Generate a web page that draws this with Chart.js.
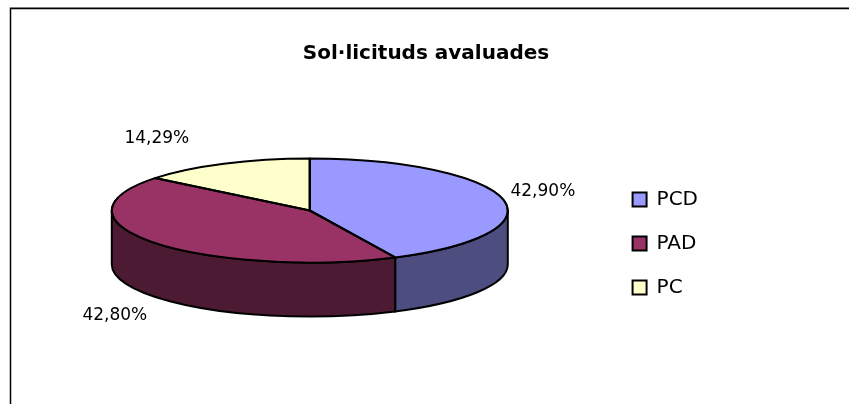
<!DOCTYPE html>
<html>
<head>
<meta charset="utf-8">
<title>Sol·licituds avaluades</title>
<script src="https://cdn.jsdelivr.net/npm/chart.js@4"></script>
<style>
  html, body { margin: 0; padding: 0; background: #fff; }
  #wrap { width: 849px; height: 404px; }
</style>
</head>
<body>
<div id="wrap"><canvas id="pieChart"></canvas></div>
<script>
const categories = ['PCD', 'PAD', 'PC'];
const shares = [42.90, 42.80, 14.29];
const shareLabels = ['42,90%', '42,80%', '14,29%'];
const topColors = ['#9999FF', '#993366', '#FFFFCC'];
const wallColors = ['#4D4D80', '#4D1A33', '#808066'];

// pie geometry: circle of pieRadius flattened to an ellipse, wall below it
const pieRadius = 198;
const flatten = 52 / 198;
const wallDepth = 54;
const labelFont = '17px "DejaVu Sans"';
// label centre relative to the rim point at the slice's mid angle
const labelOffsets = [[40, -7], [-40, 73], [-67, -25]];

// Draws the frame, the walls, and flattens the arcs of the pie
const pie3d = {
  id: 'pie3d',
  beforeDraw(chart) {
    const ctx = chart.ctx;
    ctx.save();
    ctx.strokeStyle = '#bbb';
    ctx.lineWidth = 1;
    ctx.beginPath();
    ctx.moveTo(11, 9.5);
    ctx.lineTo(849, 9.5);
    ctx.stroke();
    ctx.strokeStyle = '#000';
    ctx.lineWidth = 1.5;
    ctx.beginPath();
    ctx.moveTo(10.5, 404);
    ctx.lineTo(10.5, 8.2);
    ctx.lineTo(849, 8.2);
    ctx.stroke();
    ctx.restore();
  },
  afterLayout(chart) {
    // title is centred over the whole frame, legend sits lower than the pie centre
    chart.titleBlock.left = 300;
    chart.titleBlock.right = 552;
    chart.legend.top += 123.5;
    chart.legend.bottom += 123.5;
  },
  beforeDatasetsDraw(chart) {
    const ctx = chart.ctx;
    const arcs = chart.getDatasetMeta(0).data;
    const cx = arcs[0].x, cy = arcs[0].y;
    const ry = pieRadius * flatten;

    ctx.save();
    ctx.lineWidth = 2;
    ctx.strokeStyle = '#000';
    arcs.forEach((arc, i) => {
      const from = Math.max(arc.startAngle, 0);
      const to = Math.min(arc.endAngle, Math.PI);
      if (from >= to) return;
      ctx.beginPath();
      ctx.ellipse(cx, cy, pieRadius, ry, 0, from, to);
      ctx.ellipse(cx, cy + wallDepth, pieRadius, ry, 0, to, from, true);
      ctx.closePath();
      ctx.fillStyle = wallColors[i];
      ctx.fill();
      ctx.stroke();
    });
    ctx.restore();

    ctx.save();
    ctx.translate(cx, cy);
    ctx.scale(1, flatten);
    ctx.translate(-cx, -cy);
  },
  afterDatasetsDraw(chart) {
    const ctx = chart.ctx;
    ctx.restore();

    const arcs = chart.getDatasetMeta(0).data;
    const cx = arcs[0].x, cy = arcs[0].y;
    const ry = pieRadius * flatten;

    // outlines again, so the line width stays even around the ellipse
    ctx.save();
    ctx.lineWidth = 2;
    ctx.strokeStyle = '#000';
    ctx.lineJoin = 'round';
    arcs.forEach(arc => {
      ctx.beginPath();
      ctx.moveTo(cx, cy);
      ctx.ellipse(cx, cy, pieRadius, ry, 0, arc.startAngle, arc.endAngle);
      ctx.closePath();
      ctx.stroke();
    });

    ctx.fillStyle = '#000';
    ctx.font = labelFont;
    ctx.textAlign = 'center';
    ctx.textBaseline = 'middle';
    arcs.forEach((arc, i) => {
      const mid = (arc.startAngle + arc.endAngle) / 2;
      const x = cx + pieRadius * Math.cos(mid) + labelOffsets[i][0];
      const y = cy + ry * Math.sin(mid) + labelOffsets[i][1];
      ctx.fillText(shareLabels[i], x, y);
    });
    ctx.restore();
  }
};

new Chart(document.getElementById('pieChart'), {
  type: 'pie',
  data: {
    labels: categories,
    datasets: [{
      data: shares,
      backgroundColor: topColors,
      borderColor: '#000',
      borderWidth: 2,
      radius: pieRadius,
      clip: false
    }]
  },
  plugins: [pie3d],
  options: {
    responsive: true,
    maintainAspectRatio: false,
    animation: false,
    layout: { padding: { left: 11, right: 141, top: 42, bottom: 57 } },
    plugins: {
      title: {
        display: true,
        text: 'Sol·licituds avaluades',
        color: '#000',
        font: { family: '"DejaVu Sans"', size: 20, weight: 'bold' },
        padding: { top: 0, bottom: 8 }
      },
      legend: {
        position: 'right',
        align: 'start',
        labels: {
          color: '#000',
          font: { family: '"DejaVu Sans"', size: 20 },
          boxWidth: 14,
          boxHeight: 14,
          padding: 24
        }
      },
      tooltip: { enabled: false }
    }
  }
});
</script>
</body>
</html>
